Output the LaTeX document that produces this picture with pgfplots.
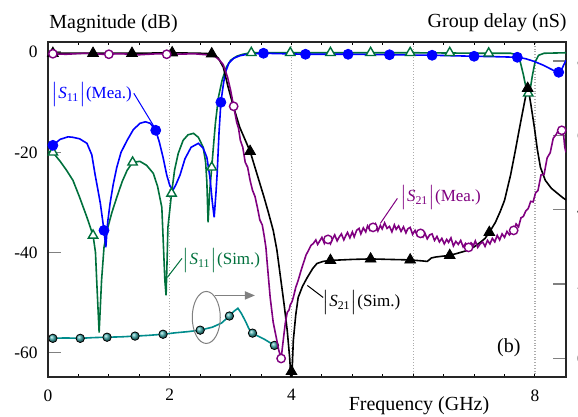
\documentclass[border=0pt]{standalone}
\usepackage{pgfplots}
\pgfplotsset{compat=1.18}
\usepackage{fontspec}
\setmainfont{Liberation Serif}
\usetikzlibrary{arrows.meta}

\definecolor{simgreen}{RGB}{0,112,60}
\definecolor{meapurple}{RGB}{128,0,128}
\definecolor{gdteal}{RGB}{0,140,140}
\definecolor{meablue}{RGB}{0,0,255}

\newcommand{\Smag}[1]{$\bigl|$\textit{S}\textsubscript{#1}$\bigr|$}
\newcommand{\annfont}{\fontsize{8.5}{10}\selectfont}

\begin{document}
\begin{tikzpicture}
% ---------- group delay (right axis, nS) ----------
\begin{axis}[
  scale only axis, width=259pt, height=167.5pt,
  xmin=0, xmax=8.51, ymin=-0.5, ymax=8.51,
  axis x line=none, axis y line*=right,
  ytick={0,2,4,6,8}, yticklabels={0,2,4,6,8},
  major tick length=6.5pt, tick align=inside,
  ytick style={gray, line width=0.8pt},
  yticklabel style={font=\fontsize{8.7}{10}\selectfont, xshift=2pt},
  axis line style={black, line width=0.6pt},
  /pgf/number format/assume math mode=true,
]
\addplot[gdteal, line width=0.8pt] coordinates {
 (0,0.54) (0.3,0.55) (0.53,0.54) (0.75,0.56) (0.97,0.57) (1.2,0.58)
 (1.43,0.6) (1.65,0.62) (1.89,0.65) (2.1,0.69) (2.3,0.72) (2.5,0.76)
 (2.7,0.84) (2.85,0.95) (2.98,1.14) (3.05,1.26) (3.12,1.35) (3.18,1.2)
 (3.25,0.98) (3.3,0.8) (3.36,0.68) (3.45,0.6) (3.55,0.52) (3.63,0.44) (3.72,0.35)
};
\addplot[only marks, mark=ball, mark size=2.1pt, mark options={ball color=gdteal!75!white}] coordinates {
 (0.08,0.54) (0.53,0.54) (0.97,0.57) (1.43,0.6) (1.89,0.65) (2.5,0.76)
 (2.98,1.14) (3.36,0.68) (3.72,0.35)
};
\end{axis}

% ---------- magnitude (left axis, dB) ----------
\begin{axis}[
  scale only axis, width=259pt, height=167.5pt,
  xmin=0, xmax=8.51, ymin=-64.9, ymax=2.05,
  axis line style={line width=0.6pt, black!85},
  xtick={0,2,4,6,8}, xticklabels={0,2,4,,8},
  minor xtick={0,0.5,...,8.5},
  major tick length=6.5pt, minor tick length=1.7pt,
  tick align=inside,
  major x tick style={draw=none},
  minor x tick style={black, line width=0.5pt},
  xmajorgrids, major grid style={densely dotted, gray!65, line width=0.6pt},
  ytick={-60,-40,-20,0}, yticklabels={-60,-40,-20,0}, ytick pos=left,
  ytick style={gray, line width=0.8pt},
  xticklabel style={font=\fontsize{8.7}{10}\selectfont, yshift=-2.7pt},
  yticklabel style={font=\fontsize{8.7}{10}\selectfont, xshift=-1.7pt},
  /pgf/number format/assume math mode=true,
]
% |S11| simulated
\addplot[simgreen, line width=0.8pt] coordinates {
 (0,-19.8) (0.08,-20) (0.2,-21.8) (0.3,-23.5) (0.41,-25.6) (0.52,-29) (0.64,-33)
 (0.74,-36.6) (0.78,-40) (0.8,-45.6) (0.84,-56) (0.88,-45.6) (0.92,-39) (0.97,-35.6)
 (1.05,-32) (1.13,-29) (1.22,-25.8) (1.3,-23.6) (1.39,-22) (1.51,-21.8) (1.62,-22.6)
 (1.73,-24.2) (1.8,-26.8) (1.87,-31) (1.92,-45.6) (1.94,-48.6) (1.96,-40) (1.97,-35)
 (2.03,-28.2) (2.08,-23.5) (2.14,-20.2) (2.22,-17.6) (2.3,-16.5) (2.39,-16.2)
 (2.47,-17) (2.55,-19) (2.59,-22) (2.61,-26) (2.63,-34) (2.655,-28) (2.69,-23)
 (2.72,-18.5) (2.75,-14.2) (2.8,-9) (2.86,-5.6) (2.93,-3) (3.0,-1.6) (3.1,-0.8)
 (3.2,-0.4) (3.34,-0.1) (4.5,-0.1) (6,-0.1) (7.2,-0.2) (7.6,-0.2) (7.7,-0.5)
 (7.76,-2) (7.81,-4.5) (7.86,-7.5) (7.89,-8.2) (7.92,-7.5) (7.96,-4.5) (8.0,-2)
 (8.06,-0.6) (8.15,-0.2) (8.51,-0.1)
};
\addplot[only marks, mark=triangle*, mark size=2.7pt,
  mark options={fill=white, draw=simgreen, line width=0.7pt}] coordinates {
 (0.08,-20) (0.74,-36.6) (1.39,-22) (2.03,-28.2) (2.69,-23) (3.34,-0.1) (3.98,-0.1)
 (4.64,-0.1) (5.3,-0.1) (5.95,-0.1) (6.6,-0.1) (7.24,-0.2) (7.89,-8.2)
};
% |S11| measured
\addplot[meablue, line width=0.8pt] coordinates {
 (0,-18.4) (0.08,-18.6) (0.2,-17.4) (0.33,-16.9) (0.41,-17) (0.52,-17.3) (0.64,-18.2)
 (0.72,-20.5) (0.77,-24.2) (0.82,-27.5) (0.86,-30.2) (0.92,-35.6) (0.95,-39)
 (0.98,-34) (1.02,-30.2) (1.07,-26.5) (1.13,-23) (1.2,-20) (1.3,-17.6) (1.4,-15.5)
 (1.51,-14.2) (1.6,-13.9) (1.68,-14.2) (1.77,-15.6) (1.83,-18) (1.89,-21) (1.95,-24.5)
 (2.0,-26.6) (2.05,-27.6) (2.1,-26.5) (2.17,-24.5) (2.25,-21.3) (2.35,-19) (2.47,-18.2)
 (2.55,-19.2) (2.61,-21) (2.66,-25) (2.7,-30) (2.73,-33) (2.76,-28) (2.78,-24)
 (2.81,-16) (2.84,-10) (2.88,-6.5) (2.91,-4.2) (2.97,-2.2) (3.05,-1.2) (3.15,-0.7)
 (3.27,-0.4) (3.54,-0.2) (4.23,-0.4) (4.93,-0.4) (5.61,-0.5) (6.31,-0.6) (7.0,-0.8)
 (7.4,-0.9) (7.71,-1.0) (7.85,-1.3) (7.98,-1.8) (8.14,-2.6) (8.3,-3.6) (8.39,-4)
 (8.44,-3.4) (8.47,-2.6) (8.51,-1.6)
};
\addplot[only marks, mark=*, mark size=2.5pt, mark options={fill=meablue, draw=meablue}] coordinates {
 (0.08,-18.6) (0.92,-35.6) (1.77,-15.6) (2.84,-10) (3.54,-0.2) (4.23,-0.4) (4.93,-0.4)
 (5.61,-0.5) (6.31,-0.6) (7.0,-0.8) (7.71,-1.0) (8.39,-4)
};
% |S21| simulated
\addplot[black, line width=0.8pt] coordinates {
 (0,-0.2) (0.5,-0.2) (1.0,-0.2) (1.5,-0.2) (2.0,-0.1) (2.5,-0.2) (2.7,-0.3) (2.8,-1.2)
 (2.88,-3) (2.96,-7) (3.05,-11) (3.15,-15) (3.32,-19.8) (3.45,-25) (3.55,-29)
 (3.62,-32) (3.7,-35.6) (3.76,-39.5) (3.82,-45) (3.88,-50.5) (3.93,-55.6) (3.97,-61)
 (4.0,-67) (4.03,-57.6) (4.07,-52.5) (4.11,-49) (4.18,-46.8) (4.26,-45) (4.35,-43.2)
 (4.42,-42.2) (4.52,-41.8) (4.64,-41.6) (5.0,-41.4) (5.3,-41.3) (5.6,-41.4)
 (5.95,-41.5) (6.15,-41.7) (6.23,-41.8) (6.3,-41.1) (6.38,-40.9) (6.6,-40.6)
 (6.75,-40.1) (6.89,-39.6) (7.0,-38.9) (7.1,-38) (7.18,-37.2) (7.25,-36) (7.35,-34)
 (7.43,-31.8) (7.5,-29.6) (7.6,-24.5) (7.68,-19.5) (7.73,-16.2) (7.78,-13) (7.82,-10.5)
 (7.86,-8) (7.88,-7.2) (7.9,-8) (7.94,-11) (7.99,-15) (8.04,-19.5) (8.09,-23)
 (8.17,-25.6) (8.27,-27.2) (8.37,-28.2) (8.45,-29) (8.51,-29.5)
};
\addplot[only marks, mark=triangle*, mark size=3.1pt, mark options={fill=black}] coordinates {
 (0.08,-0.2) (0.74,-0.2) (1.38,-0.2) (2.04,-0.1) (2.69,-0.3) (3.32,-19.8) (4.0,-63.8)
 (4.64,-41.6) (5.3,-41.3) (5.95,-41.5) (6.6,-40.6) (7.25,-36) (7.88,-7.2)
};
% |S21| measured (noisy trace)
\addplot[meapurple, line width=0.8pt] coordinates {
 (0,-0.3) (0.3,-0.4) (0.6,-0.2) (0.9,-0.4) (1.2,-0.3) (1.5,-0.5) (1.8,-0.3) (2.1,-0.4)
 (2.4,-0.3) (2.6,-0.5) (2.75,-0.9) (2.82,-1.6) (2.88,-2.5) (2.95,-5) (3.0,-7.6)
 (3.05,-10.8) (3.1,-14) (3.13,-15.2) (3.16,-17.6) (3.2,-19) (3.24,-22) (3.28,-23)
 (3.32,-25.6) (3.36,-27.6) (3.4,-28.8) (3.44,-31) (3.48,-33.5) (3.52,-34.5)
 (3.55,-36.6) (3.58,-39) (3.6,-42) (3.65,-49) (3.7,-54) (3.75,-57) (3.79,-59.5)
 (3.83,-61.2) (3.87,-57) (3.9,-54) (3.93,-52) (3.96,-51.5) (3.98,-50.5) (4.01,-49.8)
 (4.03,-49) (4.07,-47) (4.11,-45.6) (4.16,-43.5) (4.2,-42) (4.24,-40.5) (4.28,-39.6)
 (4.32,-38.6) (4.36,-38.2)
 (4.40,-37.5) (4.43,-38.4) (4.47,-37.6) (4.50,-37.0) (4.54,-38.2) (4.57,-37.5)
 (4.60,-37.4) (4.64,-38.3) (4.68,-37.2) (4.71,-36.5) (4.75,-37.7) (4.78,-37.0)
 (4.82,-36.3) (4.86,-37.5) (4.89,-36.7) (4.92,-36.0) (4.96,-37.1) (5.00,-35.9)
 (5.03,-36.9) (5.07,-35.6) (5.11,-35.2) (5.14,-36.3) (5.18,-35.1) (5.22,-35.9)
 (5.25,-34.7) (5.29,-35.6) (5.34,-35.0) (5.38,-34.3) (5.42,-35.7) (5.46,-34.6)
 (5.49,-35.3) (5.53,-34.1) (5.57,-35.2) (5.61,-34.8) (5.65,-35.9) (5.69,-34.5)
 (5.72,-35.4) (5.76,-34.7) (5.80,-35.8) (5.84,-34.9) (5.88,-36.1) (5.91,-35.3)
 (5.95,-35.0) (5.99,-36.4) (6.03,-35.6) (6.07,-36.7) (6.12,-36.2) (6.16,-36.9)
 (6.19,-36.1) (6.23,-37.3) (6.27,-36.5) (6.31,-36.3) (6.35,-37.6) (6.39,-36.8)
 (6.43,-37.9) (6.47,-37.2) (6.51,-38.3) (6.55,-37.4) (6.58,-38.0) (6.62,-37.1)
 (6.66,-38.7) (6.70,-37.8) (6.74,-38.4) (6.78,-37.6) (6.82,-38.9) (6.86,-38.2)
 (6.91,-39.0) (6.95,-38.1) (6.99,-38.6) (7.02,-37.7) (7.06,-39.0) (7.10,-38.3)
 (7.14,-37.9) (7.18,-38.8) (7.22,-37.6) (7.26,-38.3) (7.30,-37.2) (7.34,-37.9)
 (7.38,-36.6) (7.42,-37.5) (7.46,-36.3) (7.50,-37.0) (7.54,-35.8) (7.58,-36.5)
 (7.62,-35.9) (7.65,-35.6) (7.69,-34.3) (7.73,-34.9) (7.77,-33.1) (7.81,-32.8)
 (7.85,-31.7) (7.89,-31.2) (7.93,-29.8) (7.97,-29.9) (8.01,-28.1) (8.05,-27.6)
 (8.10,-24.5) (8.15,-24.4) (8.20,-21.1) (8.25,-20.1) (8.30,-17.2) (8.35,-16.4)
 (8.40,-15.2) (8.44,-15.6) (8.47,-16.5) (8.49,-19) (8.51,-20)
};
\addplot[only marks, mark=*, mark size=2.1pt,
  mark options={fill=white, draw=meapurple, line width=0.7pt}] coordinates {
 (0.08,-0.3) (1.0,-0.4) (1.95,-0.4) (3.05,-10.8) (3.83,-61.2) (4.6,-37.4) (5.34,-35)
 (6.12,-36.2) (6.91,-39) (7.65,-35.6) (8.44,-15.6)
};

% curve labels with leader lines
\node[meablue, font=\annfont] at (axis cs:0.72,-8.4) {\Smag{11}(Mea.)};
\draw[meablue, line width=0.5pt] (axis cs:1.41,-8.2) -- (axis cs:1.76,-15.2);
\node[simgreen, font=\annfont] at (axis cs:2.85,-41.6) {\Smag{11}(Sim.)};
\draw[simgreen, line width=0.5pt] (axis cs:2.2,-41.2) -- (axis cs:1.96,-45);
\node[meapurple, font=\annfont] at (axis cs:6.45,-29) {\Smag{21}(Mea.)};
\draw[meapurple, line width=0.5pt] (axis cs:5.74,-29.2) -- (axis cs:5.46,-34.2);
\node[black, font=\annfont] at (axis cs:5.15,-50) {\Smag{21}(Sim.)};
\draw[black, line width=0.5pt] (axis cs:4.52,-49) -- (axis cs:4.26,-46.6);

% group delay curve marker: ellipse and arrow to the right axis
\draw[gray, line width=0.5pt] (axis cs:2.6,-53) ellipse [x radius=7pt, y radius=13pt];
\draw[gray, line width=0.8pt, -{Triangle[length=5pt,width=4pt]}]
  (axis cs:2.75,-48.6) -- (axis cs:3.4,-48.6);

\node[font=\fontsize{10}{12}\selectfont] at (axis cs:7.57,-59) {(b)};
\end{axis}

% axis titles
\node[anchor=base west, font=\fontsize{10}{12}\selectfont, inner sep=0pt] at (0.5pt,174pt) {Magnitude (dB)};
\node[anchor=base east, font=\fontsize{10}{12}\selectfont, inner sep=0pt] at (259.5pt,174.5pt) {Group delay (nS)};
\node[anchor=base, font=\fontsize{10}{12}\selectfont, inner sep=0pt] at (185.5pt,-16.5pt) {Frequency (GHz)};

\pgfresetboundingbox
\useasboundingbox (-24pt,-20pt) rectangle (265pt,188.5pt);
\end{tikzpicture}
\end{document}
